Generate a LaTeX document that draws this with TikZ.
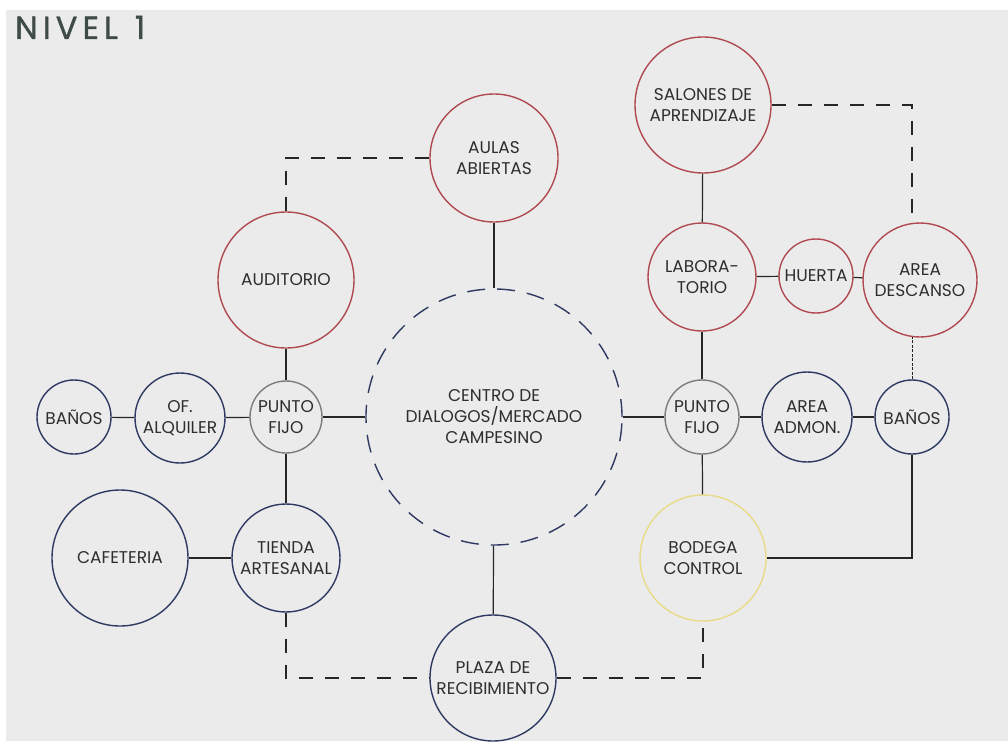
\documentclass[tikz,border=0pt]{standalone}
\usepackage{fontspec}
\setmainfont{Poppins}
\usetikzlibrary{calc}
\definecolor{bg}{HTML}{EBEBEB}
\definecolor{redc}{HTML}{B04A52}
\definecolor{bluec}{HTML}{2F3A63}
\definecolor{grayc}{HTML}{7C7C7C}
\definecolor{yelc}{HTML}{E9DA86}
\definecolor{txt}{HTML}{2E2E2E}
\definecolor{ttl}{HTML}{3F4B49}
\begin{document}
\begin{tikzpicture}[x=1pt,y=-1pt,
  room/.style={circle,draw,line width=1.4pt,inner sep=0pt,align=center,text=txt,
    font=\fontsize{17}{21}\selectfont},
  rr/.style={room,draw=redc},
  br/.style={room,draw=bluec},
  gr/.style={room,draw=grayc},
  yr/.style={room,draw=yelc},
  link/.style={line width=1.2pt,draw=black!85},
  dlink/.style={link,dash pattern=on 14pt off 12pt},
  dotlink/.style={link,line width=1pt,dash pattern=on 3pt off 1.5pt}]
\useasboundingbox (0,0) rectangle (1008,741);
\fill[white] (0,0) rectangle (1008,741);
\fill[bg] (6,10) rectangle (1008,741);
\node[anchor=base west,text=ttl,inner sep=0pt] (title) at (15,39)
  {\fontsize{32}{32}\selectfont\addfontfeatures{LetterSpace=16,FakeBold=1.2}NIVEL\hspace{17pt}1};
% nodes
\node[rr,minimum size=128pt] (aulas) at (494,158) {AULAS\\ABIERTAS};
\node[rr,minimum size=136pt] (aud) at (286,280) {AUDITORIO};
\node[gr,minimum size=72pt] (pfL) at (286,417) {PUNTO\\FIJO};
\node[br,minimum size=90pt] (ofal) at (180,418) {OF.\\ALQUILER};
\node[br,minimum size=74pt] (banL) at (74,417) {BAÑOS};
\node[br,minimum size=136pt] (cafe) at (120,558) {CAFETERIA};
\node[br,minimum size=108pt] (tienda) at (286,558) {TIENDA\\ARTESANAL};
\node[room,draw=bluec,dash pattern=on 18pt off 12pt,minimum size=256pt] (centro) at (494,417)
  {CENTRO DE\\DIALOGOS/MERCADO\\CAMPESINO};
\node[br,minimum size=126pt] (plaza) at (493,678) {PLAZA DE\\RECIBIMIENTO};
\node[yr,minimum size=126pt] (bodega) at (703,558) {BODEGA\\CONTROL};
\node[gr,minimum size=74pt] (pfR) at (702,417) {PUNTO\\FIJO};
\node[br,minimum size=90pt] (admon) at (807,417) {AREA\\ADMON.};
\node[br,minimum size=74pt] (banR) at (912,417) {BAÑOS};
\node[rr,minimum size=108pt] (lab) at (702,277) {LABORA-\\TORIO};
\node[rr,minimum size=74pt] (huerta) at (816,276) {HUERTA};
\node[rr,minimum size=114pt] (descanso) at (920,280) {AREA\\DESCANSO};
\node[rr,minimum size=136pt] (sal) at (703,105) {SALONES DE\\APRENDIZAJE};
% solid connectors
\draw[link] (aulas) -- (centro);
\draw[link] (aud) -- (pfL);
\draw[link] (banL) -- (ofal);
\draw[link] (ofal) -- (pfL);
\draw[link] (pfL) -- (centro);
\draw[link] (pfL) -- (tienda);
\draw[link] (cafe) -- (tienda);
\draw[link] (centro) -- (plaza);
\draw[link] (centro) -- (pfR);
\draw[link] (pfR) -- (admon);
\draw[link] (admon) -- (banR);
\draw[link] (pfR) -- (lab);
\draw[link] (lab) -- (sal);
\draw[link] (lab) -- (huerta);
\draw[link] (huerta) -- (descanso);
\draw[link] (pfR) -- (bodega);
\draw[link] (bodega.east) -- (bodega.east -| banR) -- (banR.south);
% dashed connectors
\draw[dlink] (aud.north) -- (aud.north |- aulas.west) -- (aulas.west);
\draw[dlink] (tienda.south) -- (tienda.south |- plaza.west) -- (plaza.west);
\draw[dlink] (plaza.east) -- (plaza.east -| bodega.south) -- (bodega.south);
\draw[dlink] (sal.east) -- (sal.east -| banR.north) -- ($(banR.north |- descanso.north)+(0,0.6)$);
\draw[dotlink] (banR.north) -- ($(banR.north |- descanso.south)+(0,-0.6)$);
\end{tikzpicture}
\end{document}
